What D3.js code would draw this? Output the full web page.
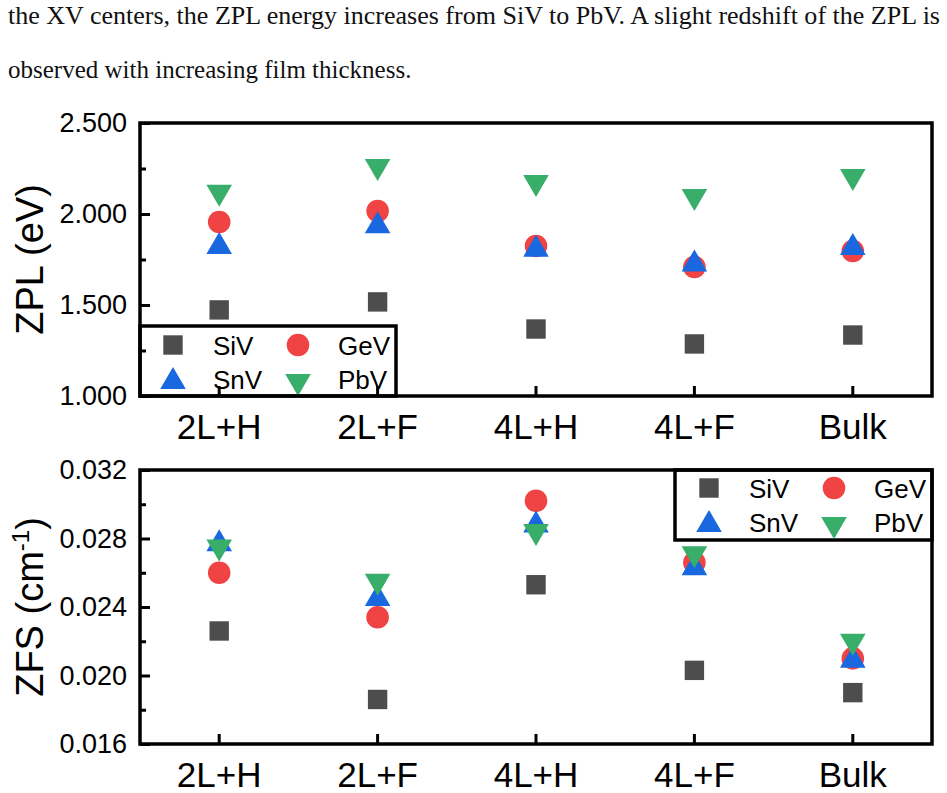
<!DOCTYPE html>
<meta charset="utf-8">
<title>ZPL / ZFS</title>
<style>
body { margin: 0; background: #fff; }
svg { display: block; }
.para { font-family: "Liberation Serif", "DejaVu Serif", serif; font-size: 25px; fill: #111; }
.ax text { font-family: "Liberation Sans", Arial, sans-serif; fill: #000; }
</style>
<svg></svg>
<script src="https://cdn.jsdelivr.net/npm/d3@7"></script>
<script>
var width = 947, height = 793;

// categories and values
var categories = ["2L+H", "2L+F", "4L+H", "4L+F", "Bulk"];
var series = ["SiV", "GeV", "SnV", "PbV"];

var zplSiV = [1.473, 1.517, 1.368, 1.286, 1.335];
var zplGeV = [1.956, 2.016, 1.824, 1.709, 1.797];
var zplSnV = [1.840, 1.955, 1.825, 1.745, 1.835];
var zplPbV = [2.100, 2.242, 2.154, 2.077, 2.187];

var zfsSiV = [0.0226, 0.0186, 0.0253, 0.0203, 0.0190];
var zfsGeV = [0.0260, 0.0234, 0.0302, 0.0266, 0.0210];
var zfsSnV = [0.0279, 0.0247, 0.0290, 0.0265, 0.0211];
var zfsPbV = [0.0273, 0.0253, 0.0282, 0.0269, 0.0218];

var zplTicks = [1.0, 1.5, 2.0, 2.5];
var zfsTicks = [0.016, 0.020, 0.024, 0.028, 0.032];

var colors = {SiV: "#4d4d4d", GeV: "#f04343", SnV: "#1a68df", PbV: "#39ad6a"};

var svg = d3.select("svg").attr("width", width).attr("height", height);

// paragraph text above the figure
svg.append("text").attr("class", "para")
  .attr("x", 8).attr("y", 24)
  .attr("textLength", 932).attr("lengthAdjust", "spacingAndGlyphs")
  .text("the XV centers, the ZPL energy increases from SiV to PbV. A slight redshift of the ZPL is");
svg.append("text").attr("class", "para")
  .attr("x", 8).attr("y", 78)
  .text("observed with increasing film thickness.");

var x = d3.scaleBand().domain(categories).range([140, 932]).paddingInner(0);
function cx(d) { return x(d) + x.bandwidth() / 2; }

function symbolPath(name) {
  if (name === "SiV") return "M-9.7,-9.7H9.7V9.7H-9.7Z";
  if (name === "GeV") return d3.arc()({innerRadius: 0, outerRadius: 11.3, startAngle: 0, endAngle: 2 * Math.PI});
  if (name === "SnV") return "M0,-11L12.8,11H-12.8Z";
  return "M0,11L12.8,-11H-12.8Z";
}

function panel(top, bottom, domain, ticks, minor, fmt, data, title, legend) {
  var y = d3.scaleLinear().domain(domain).range([bottom, top]);
  var g = svg.append("g").attr("class", "ax");

  // markers
  series.forEach(function(s) {
    g.append("g").selectAll("path")
      .data(categories)
      .enter().append("path")
      .attr("transform", function(d, i) { return "translate(" + cx(d) + "," + y(data[s][i]) + ")"; })
      .attr("d", symbolPath(s))
      .attr("fill", colors[s]);
  });

  // legend box
  var lg = g.append("g");
  lg.append("rect")
    .attr("x", legend.x0).attr("y", legend.y0)
    .attr("width", legend.x1 - legend.x0).attr("height", legend.y1 - legend.y0)
    .attr("fill", "#fff").attr("stroke", "#000").attr("stroke-width", 3.5);
  series.forEach(function(s, i) {
    var col = i % 2, row = Math.floor(i / 2);
    var mx = legend.mx + col * 125, my = legend.my + row * 34;
    var dy = s === "PbV" ? 6 : (s === "SnV" ? -1 : 0);
    lg.append("path").attr("d", symbolPath(s))
      .attr("transform", "translate(" + mx + "," + (my + dy) + ")")
      .attr("fill", colors[s]);
    lg.append("text").attr("x", mx + 40).attr("y", my + 10)
      .attr("font-size", 26).text(s);
  });

  // axes
  var yAxis = g.append("g").attr("transform", "translate(140,0)")
    .call(d3.axisLeft(y).tickValues(ticks).tickFormat(d3.format(fmt)).tickSizeInner(-10).tickSizeOuter(0).tickPadding(13));
  yAxis.selectAll("text").attr("font-size", 27);
  g.append("g").attr("transform", "translate(140,0)")
    .call(d3.axisLeft(y).tickValues(minor).tickFormat("").tickSizeInner(-6).tickSizeOuter(0));

  var xAxis = g.append("g").attr("transform", "translate(0," + bottom + ")")
    .call(d3.axisBottom(x).tickSizeInner(-10).tickSizeOuter(0).tickPadding(18));
  xAxis.selectAll("text").attr("font-size", 35);

  g.selectAll(".tick line").attr("stroke", "#000").attr("stroke-width", 3);
  g.selectAll(".domain").remove();

  // frame
  g.append("rect").attr("x", 140).attr("y", top)
    .attr("width", 792).attr("height", bottom - top)
    .attr("fill", "none").attr("stroke", "#000").attr("stroke-width", 3.5);

  // axis title
  var t = g.append("text")
    .attr("transform", "translate(43," + (top + bottom) / 2 + ") rotate(-90)")
    .attr("text-anchor", "middle").attr("font-size", 38);
  title(t);
}

panel(123, 396, [1.0, 2.5], zplTicks, [1.25, 1.75, 2.25], ".3f",
  {SiV: zplSiV, GeV: zplGeV, SnV: zplSnV, PbV: zplPbV},
  function(t) { t.text("ZPL (eV)"); },
  {x0: 140, y0: 326, x1: 396, y1: 396, mx: 173, my: 345});

panel(470, 744, [0.016, 0.032], zfsTicks, [0.018, 0.022, 0.026, 0.030], ".3f",
  {SiV: zfsSiV, GeV: zfsGeV, SnV: zfsSnV, PbV: zfsPbV},
  function(t) {
    t.append("tspan").text("ZFS (cm");
    t.append("tspan").attr("dy", -14).attr("font-size", 24).text("-1");
    t.append("tspan").attr("dy", 14).text(")");
  },
  {x0: 675, y0: 470, x1: 932, y1: 540, mx: 709, my: 488});
</script>
